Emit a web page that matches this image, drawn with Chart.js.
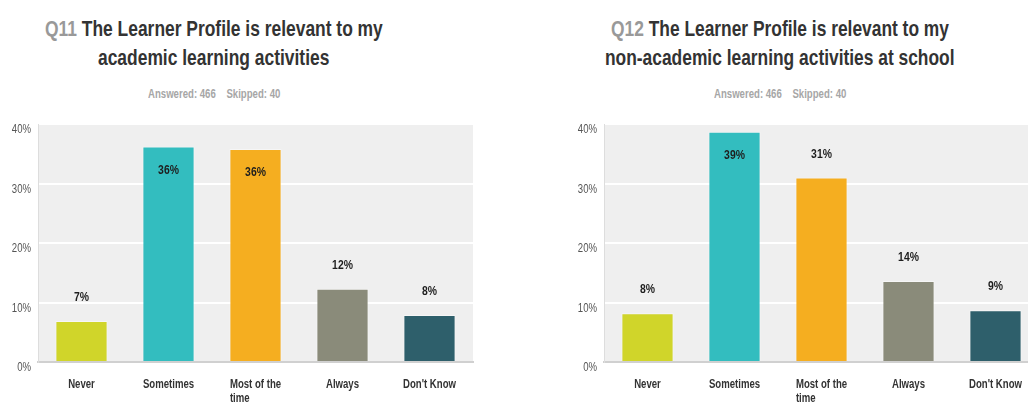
<!DOCTYPE html>
<html>
<head>
<meta charset="utf-8">
<script src="https://cdn.jsdelivr.net/npm/chart.js@4/dist/chart.umd.min.js"></script>
<style>
  html, body { margin: 0; padding: 0; background: #fff; }
  body { width: 1028px; height: 403px; position: relative; overflow: hidden;
         font-family: "Liberation Sans", Arial, sans-serif; }
  .title { position: absolute; top: 14px; font-weight: bold; font-size: 22px;
           line-height: 29px; color: #333; }
  .title .line { position: absolute; left: 0; white-space: nowrap; transform-origin: 0 0; }
  .title .qn { color: #999; }
  .sub { position: absolute; top: 87px; font-weight: bold; font-size: 12px; color: #a6a6a6;
         white-space: nowrap; transform-origin: 0 0; }
  .box { position: absolute; top: 0; width: 480px; height: 403px; }
</style>
</head>
<body>
<div class="title" data-center="214"><span class="line"><span class="qn">Q11</span> The Learner Profile is relevant to my</span><span class="line" style="top:29px">academic learning activities</span></div>
<div class="sub" data-center="214">Answered: 466&nbsp;&nbsp;&nbsp;&nbsp;Skipped: 40</div>
<div class="title" data-center="780"><span class="line"><span class="qn">Q12</span> The Learner Profile is relevant to my</span><span class="line" style="top:29px">non-academic learning activities at school</span></div>
<div class="sub" data-center="780">Answered: 466&nbsp;&nbsp;&nbsp;&nbsp;Skipped: 40</div>

<div class="box" style="left:0"><canvas id="q11"></canvas></div>
<div class="box" style="left:566px"><canvas id="q12"></canvas></div>

<script>
const categories = ['Never', 'Sometimes', ['Most of the', 'time'], 'Always', "Don't Know"];
const q11Values = [6.9, 36.2, 35.8, 12.3, 7.9];
const q12Values = [8.2, 38.7, 31.0, 13.6, 8.7];
const yTicks = [0, 10, 20, 30, 40];
const barColors = ['#d0d52a', '#33bdbf', '#f5ae20', '#8a8b7a', '#2e5f6b'];

const fontFamily = "'Liberation Sans', Arial, sans-serif";
const NARROW = 0.8;  // squeeze Liberation Sans to look like a narrow face

// condense the HTML titles and center them over their charts
document.querySelectorAll('.title').forEach(t => {
    const lines = t.querySelectorAll('.line');
    const s = 338 / lines[0].offsetWidth;
    const c = +t.dataset.center;
    lines.forEach(l => {
        const w = l.offsetWidth * s;
        l.style.transform = 'scaleX(' + s + ')';
        l.style.left = (c - w / 2) + 'px';
    });
});
document.querySelectorAll('.sub').forEach(el => {
    el.style.transform = 'scaleX(' + NARROW + ')';
    el.style.left = (+el.dataset.center - el.offsetWidth * NARROW / 2) + 'px';
});

function narrowText(ctx, text, x, y, align) {
    const w = ctx.measureText(text).width * NARROW;
    let left = x;
    if (align === 'center') left = x - w / 2;
    if (align === 'right') left = x - w;
    ctx.save();
    ctx.translate(left, y);
    ctx.scale(NARROW, 1);
    ctx.textAlign = 'left';
    ctx.fillText(text, 0, 0);
    ctx.restore();
}

// light grey plot background
const plotBg = {
    id: 'plotBg',
    beforeDraw(chart) {
        const a = chart.chartArea;
        const ctx = chart.ctx;
        ctx.save();
        ctx.fillStyle = '#efefef';
        ctx.fillRect(a.left, a.top, a.right - a.left, a.bottom - a.top);
        ctx.restore();
    }
};

// axis labels in a condensed face, placed from the chart's own scales
const axisLabels = {
    id: 'axisLabels',
    afterDraw(chart) {
        const ctx = chart.ctx;
        const xs = chart.scales.x, ys = chart.scales.y;
        ctx.save();
        ctx.textBaseline = 'middle';

        ctx.font = '12px ' + fontFamily;
        ctx.fillStyle = '#555';
        ys.ticks.forEach(t => {
            narrowText(ctx, t.value + '%', ys.right - 7, ys.getPixelForValue(t.value) + 6, 'right');
        });

        ctx.font = 'bold 12px ' + fontFamily;
        ctx.fillStyle = '#333';
        chart.data.labels.forEach((lab, i) => {
            const lines = Array.isArray(lab) ? lab : [lab];
            const x = xs.getPixelForTick(i);
            const w0 = ctx.measureText(lines[0]).width * NARROW;
            lines.forEach((ln, j) => {
                const y = xs.top + 23 + j * 14;
                if (j === 0) narrowText(ctx, ln, x, y, 'center');
                else narrowText(ctx, ln, x - w0 / 2, y, 'left');
            });
        });
        ctx.restore();
    }
};

// percentage labels above bars, or inside when there is no room
const valueLabels = {
    id: 'valueLabels',
    afterDatasetsDraw(chart) {
        const ctx = chart.ctx;
        const top = chart.chartArea.top;
        const meta = chart.getDatasetMeta(0);
        ctx.save();
        ctx.font = 'bold 13px ' + fontFamily;
        ctx.fillStyle = '#1e1e1e';
        ctx.textBaseline = 'middle';
        meta.data.forEach((bar, i) => {
            const v = chart.data.datasets[0].data[i];
            let y = bar.y - 23.5;
            if (y - 8 < top) y = bar.y + 23.5;
            narrowText(ctx, Math.round(v) + '%', bar.x, y, 'center');
        });
        ctx.restore();
    }
};

function makeChart(id, values) {
    const ctx = document.getElementById(id).getContext('2d');
    return new Chart(ctx, {
        type: 'bar',
        data: {
            labels: categories,
            datasets: [{
                data: values,
                backgroundColor: barColors,
                borderColor: 'rgba(255,255,255,0.45)',
                borderWidth: 1,
                categoryPercentage: 0.6,
                barPercentage: 1
            }]
        },
        options: {
            responsive: true,
            maintainAspectRatio: false,
            animation: false,
            layout: { padding: { top: 124, right: 7, left: 0, bottom: 0 } },
            plugins: { legend: { display: false }, tooltip: { enabled: false } },
            scales: {
                x: {
                    grid: { display: false },
                    border: { color: '#d0d0d0', width: 2 },
                    ticks: { display: false },
                    afterFit(scale) { scale.height = 41; }
                },
                y: {
                    min: 0,
                    max: 40,
                    afterBuildTicks(scale) { scale.ticks = yTicks.map(v => ({ value: v })); },
                    grid: { color: '#ffffff', lineWidth: 2, drawTicks: false },
                    border: { color: '#dddddd', width: 1 },
                    ticks: { display: false },
                    afterFit(scale) { scale.width = 38; }
                }
            }
        },
        plugins: [plotBg, valueLabels, axisLabels]
    });
}

makeChart('q11', q11Values);
makeChart('q12', q12Values);
</script>
</body>
</html>
